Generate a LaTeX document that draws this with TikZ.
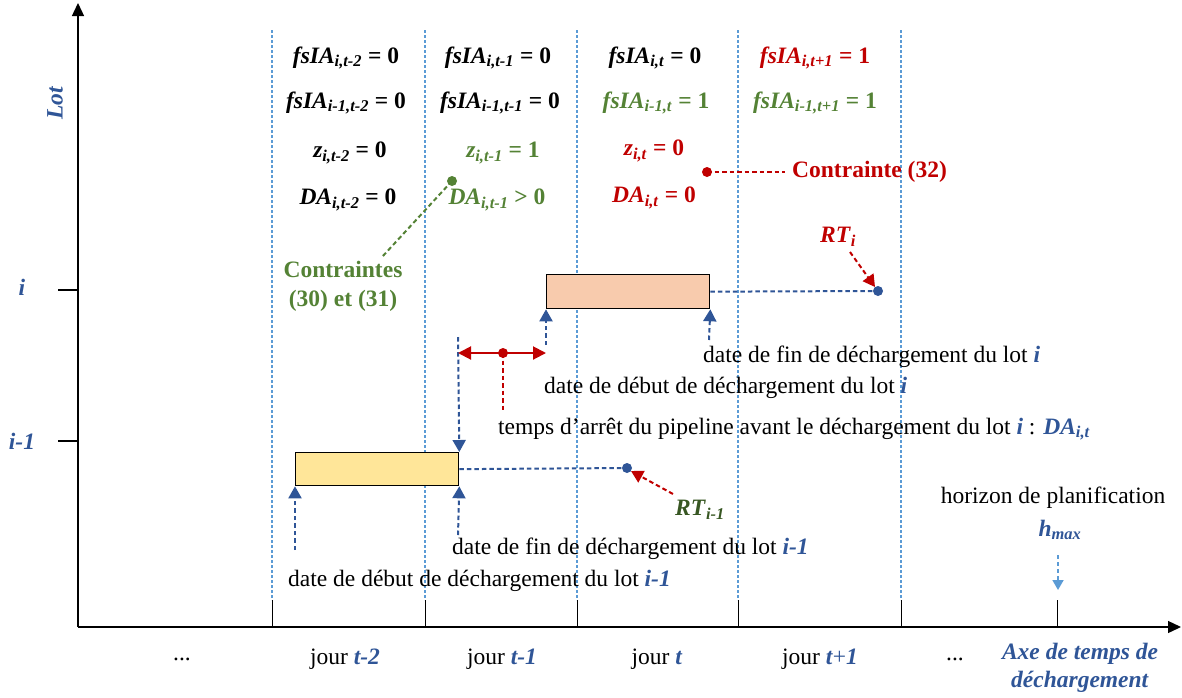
\documentclass[tikz,border=0pt]{standalone}
\usepackage{fontspec}
\setmainfont{Liberation Serif}
\usetikzlibrary{arrows.meta}

\definecolor{bleu}{RGB}{47,85,151}
\definecolor{bleuclair}{RGB}{91,155,213}
\definecolor{vert}{RGB}{84,130,53}
\definecolor{vertfonce}{RGB}{56,87,35}
\definecolor{rouge}{RGB}{192,0,0}
\definecolor{saumon}{RGB}{248,203,173}
\definecolor{jaune}{RGB}{255,230,153}

\newcommand{\bi}[1]{\textbf{\textit{#1}}}
\newcommand{\vx}[2]{\bi{#1}\textsubscript{\bi{#2}}}

\tikzset{
  txt/.style={font=\fontsize{23.5}{28}\selectfont, inner sep=0pt},
  eq/.style={font=\fontsize{23.5}{28}\selectfont\bfseries, inner sep=0pt},
  axe/.style={line width=1.3pt},
  jour/.style={bleuclair, line width=1.7pt, dash pattern=on 2.5pt off 2.5pt},
  lien/.style={bleu, line width=2pt, dash pattern=on 4.5pt off 3pt},
  rlien/.style={rouge, line width=2pt, dash pattern=on 4.5pt off 3pt},
  tir/.style={lien, -{Triangle[length=12pt,width=13pt]}},
  lot/.style={draw, line width=1.3pt, minimum width=163pt, minimum height=34pt, anchor=north west, inner sep=0pt}
}

\begin{document}
\begin{tikzpicture}[x=1pt,y=-1pt]
\useasboundingbox (0,0) rectangle (1182,697);

% axes
\coordinate (O) at (78,627);
\draw[axe,-{Triangle[length=13pt,width=12pt]}] (O) -- (78,3);
\draw[axe,-{Triangle[length=13pt,width=12pt]}] (O) -- (1181,627);
\node[txt, rotate=90, text=bleu] (nLot) at (55,103) {\bi{Lot}};
\draw[axe] (58,290) -- (78,290);
\draw[axe] (58,441) -- (78,441);
\node[txt, text=bleu] (nI) at (22,287) {\bi{i}};
\node[txt, text=bleu] (nIm) at (22,441) {\bi{i-1}};

% jours
\foreach \x in {272,425,577,738,901} {
  \draw[jour] (\x,30) -- (\x,600);
  \draw[line width=1pt] (\x,600) -- (\x,627);
}
\draw[line width=1pt] (1057,600) -- (1057,627);
\node[txt] (j0) at (182,659) {...};
\node[txt] (j1) at (345,659) {jour \textcolor{bleu}{\bi{t-2}}};
\node[txt] (j2) at (502,659) {jour \textcolor{bleu}{\bi{t-1}}};
\node[txt] (j3) at (657,659) {jour \textcolor{bleu}{\bi{t}}};
\node[txt] (j4) at (820,659) {jour \textcolor{bleu}{\bi{t}+\bi{1}}};
\node[txt] (j5) at (955,659) {...};
\node[txt, text=bleu, align=center, font=\fontsize{23.5}{28}\selectfont] (nAxe) at (1080,668) {\bi{Axe de temps de}\\\bi{déchargement}};

% variables
\node[eq] (a1) at (346,58) {\vx{fsIA}{i,t-2} = 0};
\node[eq] (b1) at (346,103) {\vx{fsIA}{i-1,t-2} = 0};
\node[eq] (c1) at (350,153) {\vx{z}{i,t-2} = 0};
\node[eq] (d1) at (348,200) {\vx{DA}{i,t-2} = 0};
\node[eq] (a2) at (498,58) {\vx{fsIA}{i,t-1} = 0};
\node[eq] (b2) at (500,103) {\vx{fsIA}{i-1,t-1} = 0};
\node[eq, text=vert] (c2) at (503,153) {\vx{z}{i,t-1} = 1};
\node[eq, text=vert] (d2) at (497,200) {\vx{DA}{i,t-1} > 0};
\node[eq] (a3) at (655,58) {\vx{fsIA}{i,t} = 0};
\node[eq, text=vert] (b3) at (656,103) {\vx{fsIA}{i-1,t} = 1};
\node[eq, text=rouge] (c3) at (654,151) {\vx{z}{i,t} = 0};
\node[eq, text=rouge] (d3) at (654,198) {\vx{DA}{i,t} = 0};
\node[eq, text=rouge] (a4) at (815,58) {\vx{fsIA}{i,t+1} = 1};
\node[eq, text=vert] (b4) at (815,103) {\vx{fsIA}{i-1,t+1} = 1};

% contraintes
\fill[rouge] (707,172) circle (5pt) coordinate (p32);
\node[eq, text=rouge, anchor=west] (n32) at (792,172) {Contrainte (32)};
\coordinate (q32) at (785,172);
\draw[rlien] (p32) -- (q32);
\fill[vert] (452,181) circle (5pt) coordinate (p30);
\node[eq, text=vert, align=center, font=\fontsize{23.5}{29}\selectfont\bfseries] (n30) at (343,286) {Contraintes\\(30) et (31)};
\coordinate (q30) at (382,257);
\draw[vert, line width=2pt, dash pattern=on 4.5pt off 3pt] (p30) -- (q30);

% lots
\node[lot, fill=saumon] (lotI) at (546,274) {};
\node[lot, fill=jaune, minimum height=33pt] (lotIm) at (295,452) {};

% temps de reprise
\fill[bleu] (878,291) circle (5pt) coordinate (rtI);
\draw[lien] (lotI.east) -- (rtI);
\node[eq, text=rouge] (nRtI) at (838,237) {\vx{RT}{i}};
\coordinate (sRtI) at (850,252);
\draw[rlien, -{Triangle[length=12pt,width=13pt]}] (sRtI) -- (875,287);
\fill[bleu] (627,468) circle (5pt) coordinate (rtIm);
\draw[lien] (lotIm.east) -- (rtIm);
\node[eq, text=vertfonce] (nRtIm) at (700,510) {\vx{RT}{i-1}};
\coordinate (sRtIm) at (673,494);
\draw[rlien, -{Triangle[length=12pt,width=13pt]}] (sRtIm) -- (631,471);

% dates
\coordinate (dDebI) at (546,345);
\coordinate (dFinI) at (709,340);
\coordinate (dDebIm) at (295,550);
\coordinate (dFinIm) at (458,535);
\coordinate (hDA) at (458,337);
\draw[tir] (dDebI) -- (lotI.south west);
\draw[tir] (dFinI) -- (lotI.south east);
\draw[tir] (dDebIm) -- (lotIm.south west);
\draw[tir] (dFinIm) -- (lotIm.south east);
\draw[tir] (hDA) -- (lotIm.north east);

% arret du pipeline
\coordinate (gDA) at (458,353);
\coordinate (rDA) at (546,353);
\draw[rouge, line width=2pt, {Triangle[length=13pt,width=13pt]}-{Triangle[length=13pt,width=13pt]}] (gDA) -- (rDA);
\fill[rouge] (503,353) circle (5pt) coordinate (mDA);
\coordinate (bDA) at (503,410);
\draw[rlien] (mDA) -- (bDA);

\node[txt, anchor=west] (tFinI) at (703,357) {date de fin de déchargement du lot \textcolor{bleu}{\bi{i}}};
\node[txt, anchor=west] (tDebI) at (544,388) {date de début de déchargement du lot \textcolor{bleu}{\bi{i}}};
\node[txt, anchor=west] (tDA) at (498,429) {temps d’arrêt du pipeline avant le déchargement du lot \textcolor{bleu}{\bi{i}} : \textcolor{bleu}{\vx{DA}{i,t}}};
\node[txt, anchor=west] (tFinIm) at (452,549) {date de fin de déchargement du lot \textcolor{bleu}{\bi{i-1}}};
\node[txt, anchor=west] (tDebIm) at (288,581) {date de début de déchargement du lot \textcolor{bleu}{\bi{i-1}}};

% horizon
\node[txt] (tHor) at (1053,498) {horizon de planification};
\node[eq, text=bleu] (nHmax) at (1060,530) {\vx{h}{max}};
\coordinate (hA) at (1058,555);
\coordinate (hB) at (1058,590);
\draw[bleuclair, line width=1.8pt, dash pattern=on 4pt off 3pt, -{Triangle[length=10pt,width=11pt]}] (hA) -- (hB);
\end{tikzpicture}
\end{document}
